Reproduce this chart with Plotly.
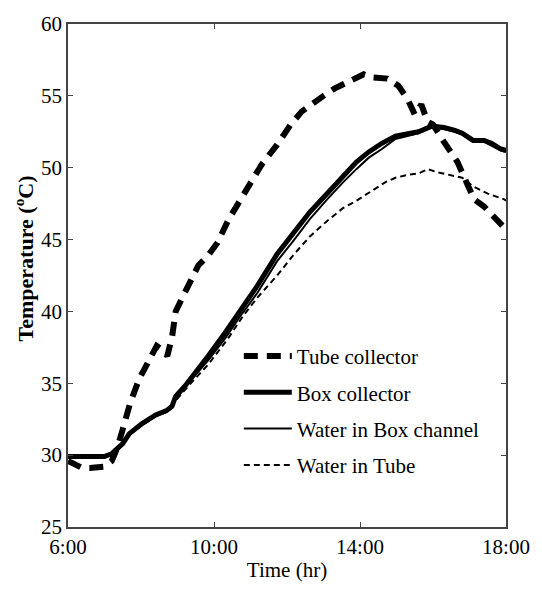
import plotly.graph_objects as go

# Time in hours of day
tube_t = [6.0, 6.2, 6.4, 6.6, 6.8, 7.0, 7.2, 7.35, 7.5, 7.7, 7.95, 8.2, 8.43, 8.6, 8.72, 8.85, 8.95,
          9.2, 9.4, 9.57, 9.84, 10.1, 10.4, 10.84, 11.3, 11.73, 12.1, 12.4, 12.7, 13.0, 13.3, 13.6,
          13.97, 14.1, 14.3, 14.5, 14.75, 15.05, 15.3, 15.5, 15.68, 15.85, 16.0, 16.3, 16.67, 16.95,
          17.13, 17.4, 17.76, 18.0]
tube_T = [29.6, 29.3, 29.1, 29.1, 29.1, 29.2, 29.6, 30.5, 31.8, 33.6, 35.3, 36.4, 37.6, 37.3, 36.9, 38.2, 40.0,
          41.3, 42.4, 43.2, 43.9, 44.8, 46.4, 48.3, 50.2, 51.6, 53.0, 53.9, 54.5, 55.0, 55.5, 55.9,
          56.3, 56.5, 56.3, 56.3, 56.2, 55.7, 54.8, 53.7, 54.4, 53.2, 53.0, 51.8, 50.4, 48.8,
          47.8, 47.3, 46.3, 45.7]

box_t = [6.0, 6.5, 7.0, 7.2, 7.35, 7.5, 7.68, 8.03, 8.4, 8.7, 8.85, 8.95, 9.2, 9.4, 9.84, 10.3, 10.73,
         11.19, 11.73, 12.2, 12.62, 13.1, 13.54, 13.9, 14.24, 14.6, 14.97, 15.3, 15.6, 15.97, 16.3,
         16.6, 16.8, 17.1, 17.4, 17.6, 17.86, 18.0]
box_T = [29.9, 29.9, 29.9, 30.1, 30.4, 30.8, 31.5, 32.2, 32.8, 33.1, 33.4, 34.1, 34.8, 35.5, 36.9, 38.5, 40.1,
         41.8, 44.0, 45.5, 46.9, 48.2, 49.4, 50.4, 51.1, 51.7, 52.2, 52.4, 52.5, 52.9, 52.8,
         52.6, 52.4, 51.9, 51.9, 51.7, 51.3, 51.2]

wbox_t = [6.0, 7.0, 7.35, 7.68, 8.03, 8.4, 8.7, 8.95, 9.4, 9.84, 10.3, 10.73, 11.19, 11.73, 12.2, 12.62,
          13.1, 13.54, 13.9, 14.24, 14.6, 14.97, 15.3, 15.6, 15.97, 16.3, 16.6, 16.8, 17.1, 17.4, 17.86, 18.0]
wbox_T = [30.0, 30.0, 30.3, 31.4, 32.1, 32.7, 33.0, 33.9, 35.3, 36.6, 38.1, 39.7, 41.3, 43.5, 45.0, 46.4,
          47.8, 49.0, 49.9, 50.7, 51.3, 52.0, 52.2, 52.4, 52.8, 52.7, 52.5, 52.3, 51.8, 51.8, 51.2, 51.1]

wtube_t = [6.0, 7.0, 7.35, 7.68, 8.03, 8.4, 8.7, 8.95, 9.4, 9.84, 10.38, 10.8, 11.2, 11.73, 12.2, 12.62,
           13.1, 13.54, 13.9, 14.35, 14.7, 14.97, 15.3, 15.6, 15.86, 16.1, 16.3, 16.8, 17.1, 17.5, 17.95, 18.0]
wtube_T = [30.0, 30.0, 30.3, 31.4, 32.1, 32.7, 33.0, 33.8, 35.1, 36.3, 38.1, 39.7, 41.0, 42.5, 44.0, 45.2,
           46.3, 47.2, 47.7, 48.4, 49.0, 49.3, 49.5, 49.6, 49.9, 49.7, 49.6, 49.3, 48.7, 48.2, 47.8, 47.7]

x_tickvals = [6, 10, 14, 18]
x_ticktext = ["6:00", "10:00", "14:00", "18:00"]
y_tickvals = [25, 30, 35, 40, 45, 50, 55, 60]

FONT = "Liberation Serif, Times New Roman, serif"

fig = go.Figure()
fig.add_trace(go.Scatter(x=tube_t, y=tube_T, mode="lines", name="Tube collector", legendgroup="a",
                         line=dict(color="black", width=6, dash="14px,9px")))
fig.add_trace(go.Scatter(x=box_t, y=box_T, mode="lines", name="Box collector", legendgroup="b",
                         line=dict(color="black", width=5)))
fig.add_trace(go.Scatter(x=wbox_t, y=wbox_T, mode="lines", name="Water in Box channel", legendgroup="c",
                         line=dict(color="black", width=2)))
fig.add_trace(go.Scatter(x=wtube_t, y=wtube_T, mode="lines", name="Water in Tube", legendgroup="d",
                         line=dict(color="black", width=2, dash="6px,4px")))

axis_common = dict(showline=True, linecolor="#444", linewidth=1.5, mirror="ticks", ticks="inside",
                   ticklen=5, tickcolor="#444", showgrid=False, zeroline=False,
                   tickfont=dict(family=FONT, size=21, color="black"))

fig.update_layout(
    width=542, height=591,
    margin=dict(l=68, r=31, t=16, b=64),
    paper_bgcolor="white", plot_bgcolor="white",
    font=dict(family=FONT, color="black"),
    xaxis=dict(range=[6, 18], tickvals=x_tickvals, ticktext=x_ticktext,
               title=dict(text="Time (hr)", font=dict(family=FONT, size=21), standoff=4),
               **axis_common),
    yaxis=dict(range=[25, 60], tickvals=y_tickvals, **axis_common),
    legend=dict(x=0.39, y=0.38, xanchor="left", yanchor="top", bgcolor="rgba(0,0,0,0)",
                font=dict(family=FONT, size=21), itemwidth=48, tracegroupgap=6,
                traceorder="grouped"),
    annotations=[dict(text="<b>Temperature (<sup>o</sup>C)</b>", textangle=-90, showarrow=False,
                      xref="paper", yref="paper", x=-0.1016, y=0.535,
                      xanchor="center", yanchor="middle",
                      font=dict(family=FONT, size=22, color="black"))],
)

fig.write_html("out.html")
